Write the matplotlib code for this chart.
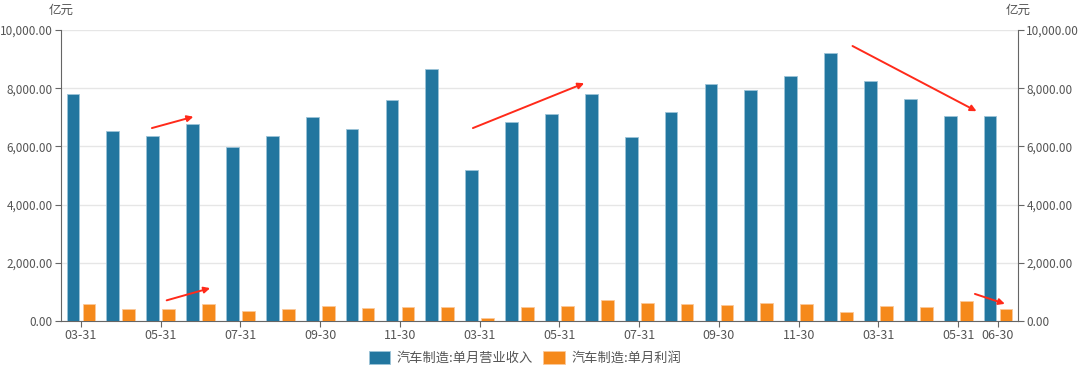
import numpy as np
import matplotlib.pyplot as plt
from matplotlib.ticker import FuncFormatter

plt.rcParams['font.family'] = ['Noto Sans CJK SC', 'DejaVu Sans']

# month-end dates (Jan+Feb combined into 03-31)
months = ['03-31', '04-30', '05-31', '06-30', '07-31', '08-31', '09-30', '10-31', '11-30', '12-31',
          '03-31', '04-30', '05-31', '06-30', '07-31', '08-31', '09-30', '10-31', '11-30', '12-31',
          '03-31', '04-30', '05-31', '06-30']
revenue = [7790, 6520, 6370, 6760, 5970, 6370, 7000, 6610, 7600, 8660,
           5190, 6840, 7100, 7810, 6320, 7170, 8140, 7950, 8410, 9220,
           8240, 7640, 7060, 7040]
profit = [590, 400, 410, 600, 350, 420, 500, 430, 470, 480,
          120, 480, 520, 720, 620, 580, 540, 610, 580, 320,
          500, 490, 690, 410]
shown_ticks = [0, 2, 4, 6, 8, 10, 12, 14, 16, 18, 20, 22, 23]

# trend arrows: (x0, y0, x1, y1) in category / value units
arrows = [(1.78, 6630, 2.82, 7020),
          (2.15, 710, 3.24, 1130),
          (9.83, 6630, 12.62, 8170),
          (19.35, 9450, 22.46, 7210),
          (22.42, 930, 23.17, 590)]

BLUE = '#22769f'
ORANGE = '#f5891b'
GRAY = '#666666'


def main():
    fig = plt.figure(figsize=(10.8, 3.73), dpi=100)
    ax = fig.add_axes([61/1080, 52/373, 957/1080, 291/373])

    x = np.arange(len(months))
    w = 0.32
    ax.bar(x - 0.2, revenue, w, color=BLUE, edgecolor='#9cc4d8', lw=0.6,
           label='汽车制造:单月营业收入', zorder=3)
    ax.bar(x + 0.2, profit, w, color=ORANGE, edgecolor='#fbc89a', lw=0.6,
           label='汽车制造:单月利润', zorder=3)

    for x0, y0, x1, y1 in arrows:
        ax.annotate('', xy=(x1, y1), xytext=(x0, y0),
                    arrowprops=dict(arrowstyle='-|>', color='#ff2a1a', lw=1.4,
                                    mutation_scale=9, shrinkA=0, shrinkB=0),
                    zorder=5)

    ax.set_xlim(-0.5, len(months) - 0.5)
    ax.set_ylim(0, 10000)
    ax.set_yticks(np.arange(0, 10001, 2000))
    fmt = FuncFormatter(lambda v, p: f'{v:,.2f}')
    ax.yaxis.set_major_formatter(fmt)
    ax.grid(axis='y', color='#e6e6e6', lw=1, zorder=0)
    ax.set_xticks(shown_ticks)
    ax.set_xticklabels([months[i] for i in shown_ticks])

    for s in ['top', 'right']:
        ax.spines[s].set_visible(False)
    for s in ['left', 'bottom']:
        ax.spines[s].set_color(GRAY)
    ax.tick_params(axis='both', colors=GRAY, labelcolor='#555555', labelsize=8.5,
                   length=4, width=0.8, pad=2)
    ax.tick_params(axis='x', labelsize=9, pad=2)

    ax2 = ax.twinx()
    ax2.set_ylim(0, 10000)
    ax2.set_yticks(np.arange(0, 10001, 2000))
    ax2.yaxis.set_major_formatter(fmt)
    for s in ['top', 'left', 'bottom']:
        ax2.spines[s].set_visible(False)
    ax2.spines['right'].set_color(GRAY)
    ax2.tick_params(axis='y', colors=GRAY, labelcolor='#555555', labelsize=8.5,
                    length=4, width=0.8, pad=2)

    fig.text(61/1080, 1 - 10/373, '亿元', ha='center', va='center', fontsize=9, color='#555555')
    fig.text(1018/1080, 1 - 10/373, '亿元', ha='center', va='center', fontsize=9, color='#555555')

    fig.legend(loc='center', bbox_to_anchor=(0.486, 15/373), ncol=2, frameon=False,
               fontsize=9.5, handlelength=1.6, handleheight=1.2, columnspacing=0.8,
               handletextpad=0.5, labelcolor='#555555')

    fig.savefig('out.png', dpi=100)


if __name__ == "__main__":
    main()
